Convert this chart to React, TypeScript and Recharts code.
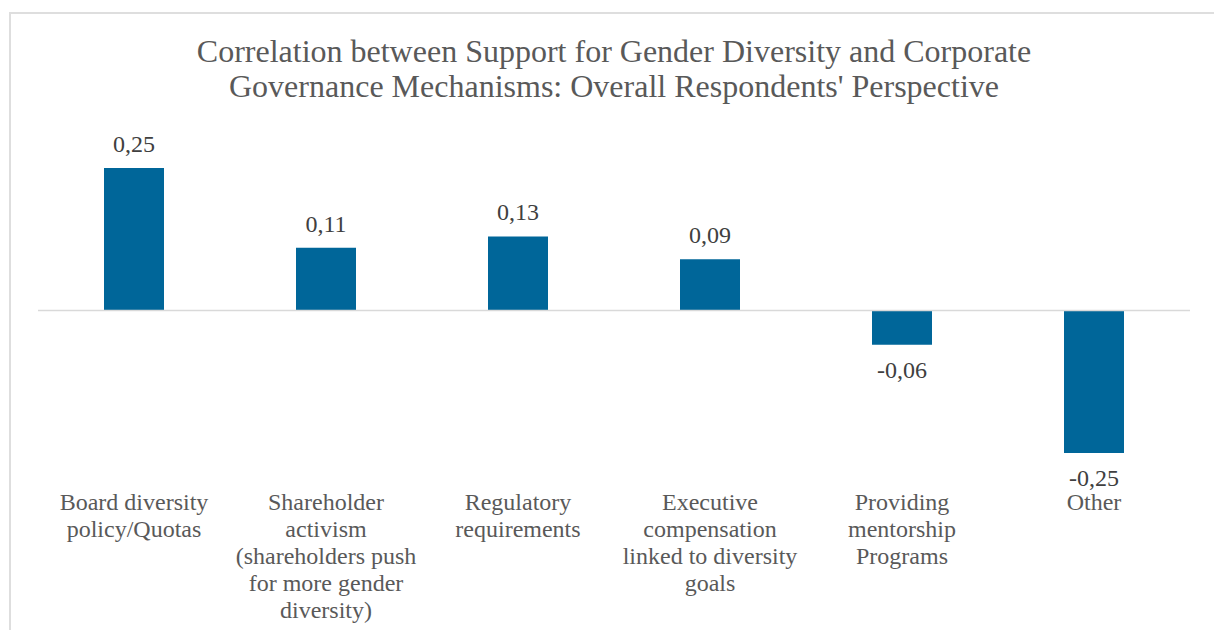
import React from 'react'
import { BarChart, Bar, XAxis, YAxis, ReferenceLine, LabelList } from 'recharts'

const categories = [
  'Board diversity policy/Quotas',
  'Shareholder activism (shareholders push for more gender diversity)',
  'Regulatory requirements',
  'Executive compensation linked to diversity goals',
  'Providing mentorship Programs',
  'Other',
]
const categoryLines = [
  ['Board diversity', 'policy/Quotas'],
  ['Shareholder', 'activism', '(shareholders push', 'for more gender', 'diversity)'],
  ['Regulatory', 'requirements'],
  ['Executive', 'compensation', 'linked to diversity', 'goals'],
  ['Providing', 'mentorship', 'Programs'],
  ['Other'],
]
const correlations = [0.25, 0.11, 0.13, 0.09, -0.06, -0.25]
const titleLines = [
  'Correlation between Support for Gender Diversity and Corporate',
  "Governance Mechanisms: Overall Respondents' Perspective",
]

const data = categories.map((name, i) => ({ name, value: correlations[i] }))

const FONT = '"Liberation Serif", Tinos, "Times New Roman", serif'

const fmt = (v: number) => v.toFixed(2).replace('.', ',')

function CategoryTick(props: any) {
  const { x, y, payload } = props
  const idx = categories.indexOf(payload.value)
  const lines = categoryLines[idx] || [payload.value]
  return (
    <text x={x} y={y + 49} textAnchor="middle" fill="#595959" fontFamily={FONT} style={{ fontSize: 24, fontFamily: FONT }}>
      {lines.map((l, i) => (
        <tspan key={i} x={x} dy={i === 0 ? 0 : 27}>
          {l}
        </tspan>
      ))}
    </text>
  )
}

function ValueLabel(props: any) {
  const { x, y, width, height, value } = props
  const top = Math.min(y, y + height)
  const bottom = Math.max(y, y + height)
  const ty = value >= 0 ? top - 16 : bottom + 33
  return (
    <text x={x + width / 2} y={ty} textAnchor="middle" fill="#404040" fontFamily={FONT} style={{ fontSize: 24, fontFamily: FONT }}>
      {fmt(value)}
    </text>
  )
}

export default function App() {
  return (
    <div style={{ position: 'fixed', left: 0, top: 0, width: 1214, height: 630, overflow: 'hidden', background: '#fff', fontFamily: FONT }}>
      <div
        style={{
          position: 'absolute',
          left: 9,
          top: 12,
          width: 1300,
          height: 700,
          borderLeft: '2px solid #dedede',
          borderTop: '2px solid #dedede',
        }}
      />
      <svg width={1214} height={120} style={{ position: 'absolute', left: 0, top: 0 }}>
        {titleLines.map((t, i) => (
          <text
            key={i}
            x={614}
            y={62 + i * 35}
            textAnchor="middle"
            fill="#595959"
            fontFamily={FONT}
            style={{ fontSize: 32, fontFamily: FONT }}
          >
            {t}
          </text>
        ))}
      </svg>
      <div style={{ position: 'absolute', left: 0, top: 0 }}>
        <BarChart
          width={1214}
          height={630}
          data={data}
          margin={{ top: 168, right: 24, bottom: 7, left: 38 }}
        >
          <XAxis
            dataKey="name"
            axisLine={false}
            tickLine={false}
            interval={0}
            height={170}
            tick={<CategoryTick />}
          />
          <YAxis hide domain={[-0.25, 0.25]} allowDataOverflow />
          <ReferenceLine y={0} stroke="#d9d9d9" strokeWidth={1.5} />
          <Bar dataKey="value" fill="#006699" barSize={60} isAnimationActive={false}>
            <LabelList dataKey="value" content={<ValueLabel />} />
          </Bar>
        </BarChart>
      </div>
    </div>
  )
}
